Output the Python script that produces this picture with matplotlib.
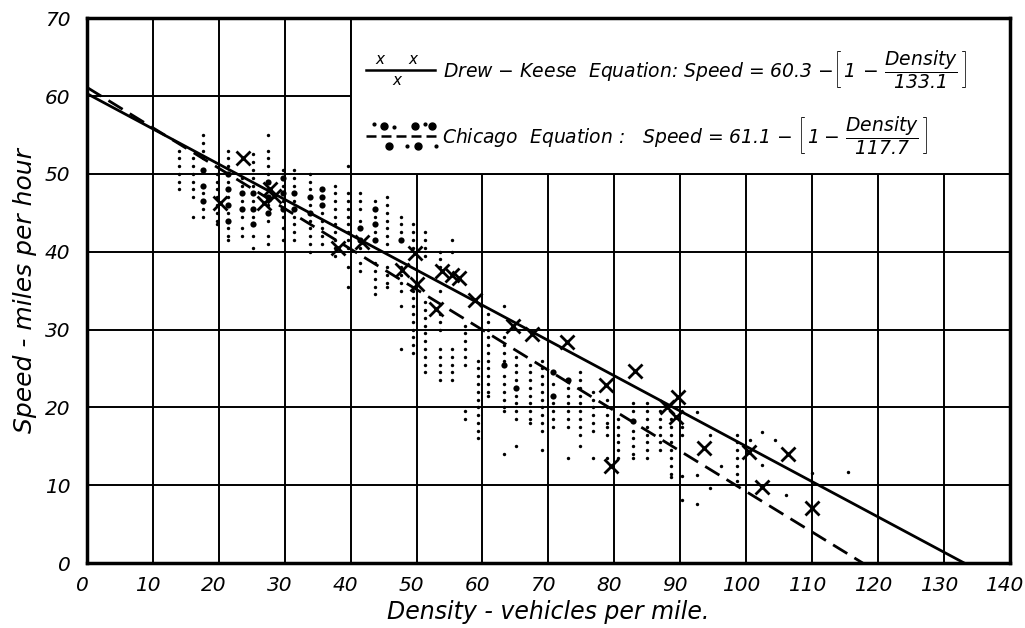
import matplotlib
matplotlib.use('Agg')
import matplotlib.pyplot as plt
import matplotlib.transforms as mtransforms
from matplotlib.patches import Rectangle

plt.rcParams['font.family'] = ['DejaVu Sans']
plt.rcParams['mathtext.fontset'] = 'custom'
plt.rcParams['mathtext.rm'] = 'DejaVu Sans:italic'
plt.rcParams['mathtext.it'] = 'DejaVu Sans:italic'

# Chicago observations read column by column (density -> speeds)
chicago_small = {
    14.0: [53, 52, 51, 50, 49, 48],
    16.0: [52, 51, 50, 49, 48, 47, 44.5],
    17.6: [55, 54, 53, 52, 47.5, 45.5, 44.5],
    19.7: [50, 49, 48, 47, 46, 45, 44, 43.5],
    21.4: [53, 52, 51, 49, 47, 45, 43, 42, 41.5],
    23.5: [49.5, 48.5, 46.5, 44.5, 43, 42],
    25.2: [52.5, 51.5, 50.5, 49.5, 48.5, 46.5, 44.5, 42, 40.5],
    27.5: [55, 53, 52, 51, 50, 48, 46, 44, 42, 41],
    29.7: [50.5, 48.5, 46.5, 44.5, 43, 41.5],
    31.4: [50.5, 49.5, 48.5, 46.5, 44.5, 43.5, 42.5, 41.5],
    33.8: [50, 49, 48, 46, 44, 43, 42, 41, 40],
    35.7: [45, 44, 43, 42, 41],
    37.6: [48.5, 47.5, 46.5, 45.5, 44.5, 43.5, 42.5, 41.5, 40.5, 39.5],
    39.6: [51, 47.5, 46.5, 45.5, 44.5, 43.5, 42.5, 41.5, 40.5, 38, 35.5],
    41.4: [47.5, 46.5, 45.5, 44, 40.5, 38.5, 37.5],
    43.7: [46.5, 44.5, 42.5, 38.5, 37.5, 36.5, 35.5, 34.5],
    45.5: [47, 46, 45, 44, 43, 42, 41, 38, 37, 36, 35.5],
    47.6: [44.5, 43.5, 42.5, 38, 37, 36, 35, 33, 27.5],
    49.5: [43.5, 42.5, 41.5, 40.5, 35, 34, 33, 32, 31, 30, 29, 28, 27],
    51.3: [42.5, 41.5, 40.5, 39.5, 33.5, 32.5, 31.5, 30.5, 29.5, 28.5, 27.5, 26.5, 25.5, 24.5],
    53.5: [40, 39, 38, 35, 32, 31, 30, 27.5, 26.5, 25.5, 24.5, 23.5],
    55.4: [41.5, 40, 27.5, 26.5, 25.5, 24.5, 23.5],
    57.4: [30.5, 29.5, 28.5, 27.5, 26.5, 25.5, 19.5, 18.5],
    59.3: [26, 25, 24, 23, 22, 21, 20, 19, 18, 17, 16],
    60.8: [32, 31, 30, 29, 28, 27, 26, 25, 24, 23, 22, 21.5],
    63.3: [33, 29, 28, 27, 26, 24, 23, 22, 21, 20, 19.5, 14],
    65.1: [26.5, 25.5, 24.5, 23.5, 21.5, 20.5, 19.5, 18.5, 15],
    67.2: [25.5, 24.5, 23.5, 22.5, 21.5, 20.5, 19.5, 18.5, 18],
    69.0: [26, 25, 24, 23, 22, 21, 20, 19, 18, 17, 14.5],
    70.7: [23, 20.5, 19.5, 18.5, 17.5],
    73.0: [22.5, 21.5, 20.5, 19.5, 18.5, 17.5, 13.5],
    74.8: [24.5, 23.5, 22.5, 21.5, 20.5, 19.5, 18.5, 17.5, 16.5, 15],
    76.8: [22, 21, 20, 19, 18, 17, 13.5],
    78.9: [21, 20, 19, 18, 17.5, 16.5, 13.5],
    80.6: [18.5, 17.5, 16.5, 15.5, 14.5, 13.5],
    82.9: [20.5, 19.5, 17, 16, 15, 14, 13.5],
    85.0: [20.5, 19.5, 18.5, 17.5, 16.5, 15.5, 14.5, 13.5],
    87.0: [19.5, 18.5, 17.5, 16.5, 15.5, 14.5],
    88.6: [18.5, 17.5, 16.5, 15.5, 14.5, 13.5, 12.5, 11.5, 11],
    90.3: [17.5, 16.5, 11.2, 8.1],
    92.6: [19.4, 11.3, 7.6],
    94.5: [16.4, 9.6],
    96.2: [12.5],
    98.6: [16.5, 15.5, 14.5, 13.5, 12.5, 11.5, 10.5],
    100.6: [15.8],
    102.4: [16.8, 12.6],
    104.4: [15.8],
    106.1: [8.7],
    110.0: [11.6],
    115.5: [11.7],
}
chicago_big = {
    17.6: [50.5, 48.5, 46.5],
    21.4: [50, 48, 46, 44],
    23.5: [47.5, 45.5],
    25.2: [47.5, 45.5, 43.5],
    27.5: [49, 47, 45],
    29.7: [49.5, 47.5, 45.5],
    31.4: [47.5, 45.5],
    33.8: [47, 45],
    35.7: [48, 47, 46],
    41.4: [43, 41.5],
    43.7: [45.5, 43.5, 41.5],
    47.6: [41.5],
    63.3: [25.5],
    65.1: [22.5],
    70.7: [24.5, 21.5],
    73.0: [23.5],
    82.9: [18.3],
}

# Drew-Keese observations
dk_density = [20.2, 23.6, 26.8, 27.8, 28.3, 38.0, 41.7, 47.8, 49.8, 50.0, 53.0,
              53.8, 55.4, 56.5, 58.9, 64.6, 67.5, 72.8, 78.8, 79.5, 83.2, 88.0,
              89.3, 89.6, 93.6, 100.5, 102.4, 106.4, 110.0]
dk_speed = [46.2, 52.0, 46.3, 48.0, 47.2, 40.5, 41.2, 37.6, 39.8, 35.9, 32.6,
            37.5, 37.0, 36.6, 33.8, 30.4, 29.4, 28.4, 22.9, 12.5, 24.7, 20.0,
            18.7, 21.3, 14.8, 14.2, 9.8, 14.0, 7.1]

# fitted equations: speed = a * (1 - density / b)
dk_a, dk_b = 60.3, 133.1
ch_a, ch_b = 61.1, 117.7

xticks = list(range(0, 141, 10))
yticks = list(range(0, 71, 10))

sx, sy = [], []
for d, speeds in chicago_small.items():
    sx += [d] * len(speeds)
    sy += speeds
bx, by = [], []
for d, speeds in chicago_big.items():
    bx += [d] * len(speeds)
    by += speeds

fig = plt.figure(figsize=(10.25, 6.28), dpi=100)
ax = fig.add_axes([0.085, 0.1035, 0.9, 0.8675])
ax.set_xlim(0, 140)
ax.set_ylim(0, 70)
ax.set_xticks(xticks)
ax.set_yticks(yticks)
ax.tick_params(length=0, labelsize=14.5)
ax.tick_params(axis='x', pad=9)
ax.tick_params(axis='y', pad=12)
shift = mtransforms.ScaledTranslation(-5 / 100, 0, fig.dpi_scale_trans)
for lab in ax.get_xticklabels():
    lab.set_fontstyle('italic')
    lab.set_transform(lab.get_transform() + shift)
for lab in ax.get_yticklabels():
    lab.set_fontstyle('italic')
ax.grid(True, color='black', linewidth=1.4)
ax.set_axisbelow(True)
for sp in ax.spines.values():
    sp.set_linewidth(2.5)

# legend panel covers the grid in the upper right
ax.add_patch(Rectangle((40, 50), 100, 20, facecolor='white', edgecolor='black',
                       linewidth=1.4, zorder=1.5))

ax.scatter(sx, sy, s=6, color='black', linewidths=0, zorder=3)
ax.scatter(bx, by, s=20, color='black', linewidths=0, zorder=3)
ax.plot(dk_density, dk_speed, 'x', color='black', markersize=10, mew=2, zorder=4)

ax.plot([0, dk_b], [dk_a, 0], color='black', linewidth=2, zorder=3)
ax.plot([0, ch_b], [ch_a, 0], color='black', linewidth=2, dashes=(6, 3), zorder=3)

# legend symbols
ax.plot([42.3, 52.8], [63.4, 63.4], color='black', linewidth=1.8, zorder=3)
for lx, ly in [(44.5, 64.7), (49.5, 64.7), (47.0, 62.0)]:
    ax.text(lx, ly, 'x', fontsize=11, style='italic', ha='center', va='center', zorder=4)
ax.plot([42.3, 53.3], [54.9, 54.9], color='black', linewidth=1.8, dashes=(4, 2), zorder=3)
ax.plot([45.0, 49.8, 52.4], [56.2, 56.2, 56.2], 'o', color='black', markersize=5, zorder=4)
ax.plot([45.8, 50.2], [53.6, 53.6], 'o', color='black', markersize=5, zorder=4)
ax.plot([43.6, 46.6, 48.6, 51.3, 53.0], [56.4, 56.0, 53.6, 56.4, 53.6], 'o',
        color='black', markersize=2, zorder=4)

ax.text(54, 63.4, r'Drew $-$ Keese  Equation: Speed = 60.3 $-\left[\,1\,-\,\dfrac{Density}{133.1}\,\right]$',
        fontsize=13.5, style='italic', va='center', ha='left', zorder=4)
ax.text(53.8, 54.9, r'Chicago  Equation :   Speed = 61.1 $-\;\left[\,1-\,\dfrac{Density}{117.7}\,\right]$',
        fontsize=13.5, style='italic', va='center', ha='left', zorder=4)

ax.set_xlabel('Density - vehicles per mile.', fontsize=17, style='italic', labelpad=4)
ax.set_ylabel('Speed - miles per hour', fontsize=18, style='italic', labelpad=6)

fig.savefig('out.png', dpi=100)
